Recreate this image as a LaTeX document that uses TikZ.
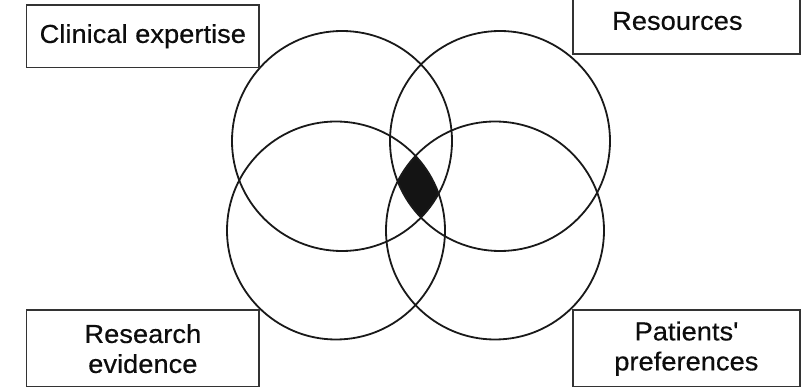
\documentclass[tikz,border=0pt]{standalone}
\usepackage{fontspec}
\setmainfont{Liberation Sans}[FakeStretch=1.05,FakeBold=0.4]
\begin{document}
\begin{tikzpicture}[x=1pt,y=-1pt,
  ring/.style={draw=black!90, line width=1.8pt},
  labelbox/.style={draw=black!80, line width=1.7pt, fill=white, rectangle,
    anchor=north west, inner sep=0pt, align=center,
    font=\fontsize{26}{30}\selectfont, text=black!95}]
\useasboundingbox (0,0) rectangle (801,387);
% circle centres
\coordinate (ctl) at (342,141);
\coordinate (ctr) at (500,141);
\coordinate (cbl) at (336,230.5);
\coordinate (cbr) at (495,230.5);
% common intersection
\begin{scope}
  \clip (ctl) circle[radius=110];
  \clip (ctr) circle[radius=110];
  \clip (cbl) circle[radius=109];
  \fill[black!92] (cbr) circle[radius=109];
\end{scope}
% circles
\draw[ring] (ctl) circle[radius=110];
\draw[ring] (ctr) circle[radius=110];
\draw[ring] (cbl) circle[radius=109];
\draw[ring] (cbr) circle[radius=109];
% boxes
\node[labelbox, minimum width=232.6pt, minimum height=62.7pt] (ce) at (25.7,4) {Clinical expertise};
\node[labelbox, minimum width=227pt, minimum height=66.3pt] (res) at (572,-13) {Resources\hspace{18pt}};
\node[labelbox, minimum width=232.6pt, minimum height=77pt] (re) at (25.7,309.3) {Research\\evidence\hspace{10pt}};
\node[labelbox, minimum width=227pt, minimum height=77pt] (pp) at (572,309.3) {Patients\textquotesingle\\preferences};
\end{tikzpicture}
\end{document}
